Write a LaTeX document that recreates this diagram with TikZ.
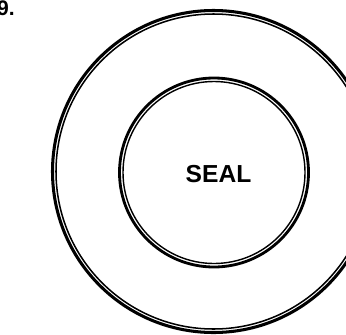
\documentclass[tikz,border=0pt]{standalone}
\usepackage{fontspec}
\setsansfont{Liberation Sans}
\usepackage{tikz}
\usetikzlibrary{positioning}

\begin{document}
\begin{tikzpicture}[x=0.03cm, y=-0.03cm, every node/.style={inner sep=0pt}]
  \useasboundingbox (0,0) rectangle (346,334);
  
  % Outer ring (double line)
  \draw[line width=2.6pt] (213.5,171.5) circle (161);
  \draw[line width=1.3pt] (213.5,171.5) circle (157.5);
  
  % Seal ring (double line)
  \draw[line width=2.4pt] (214,172.5) circle (94.5);
  \draw[line width=1.2pt] (214,172.5) circle (91);
  
  \node[font=\sffamily\bfseries\fontsize{21}{21}\selectfont] (seal) at (218.5,174.5) {SEAL};
  \node[font=\sffamily\bfseries\fontsize{18}{18}\selectfont, anchor=base east] (fig) at (15,15.5) {9.};
\end{tikzpicture}
\end{document}
